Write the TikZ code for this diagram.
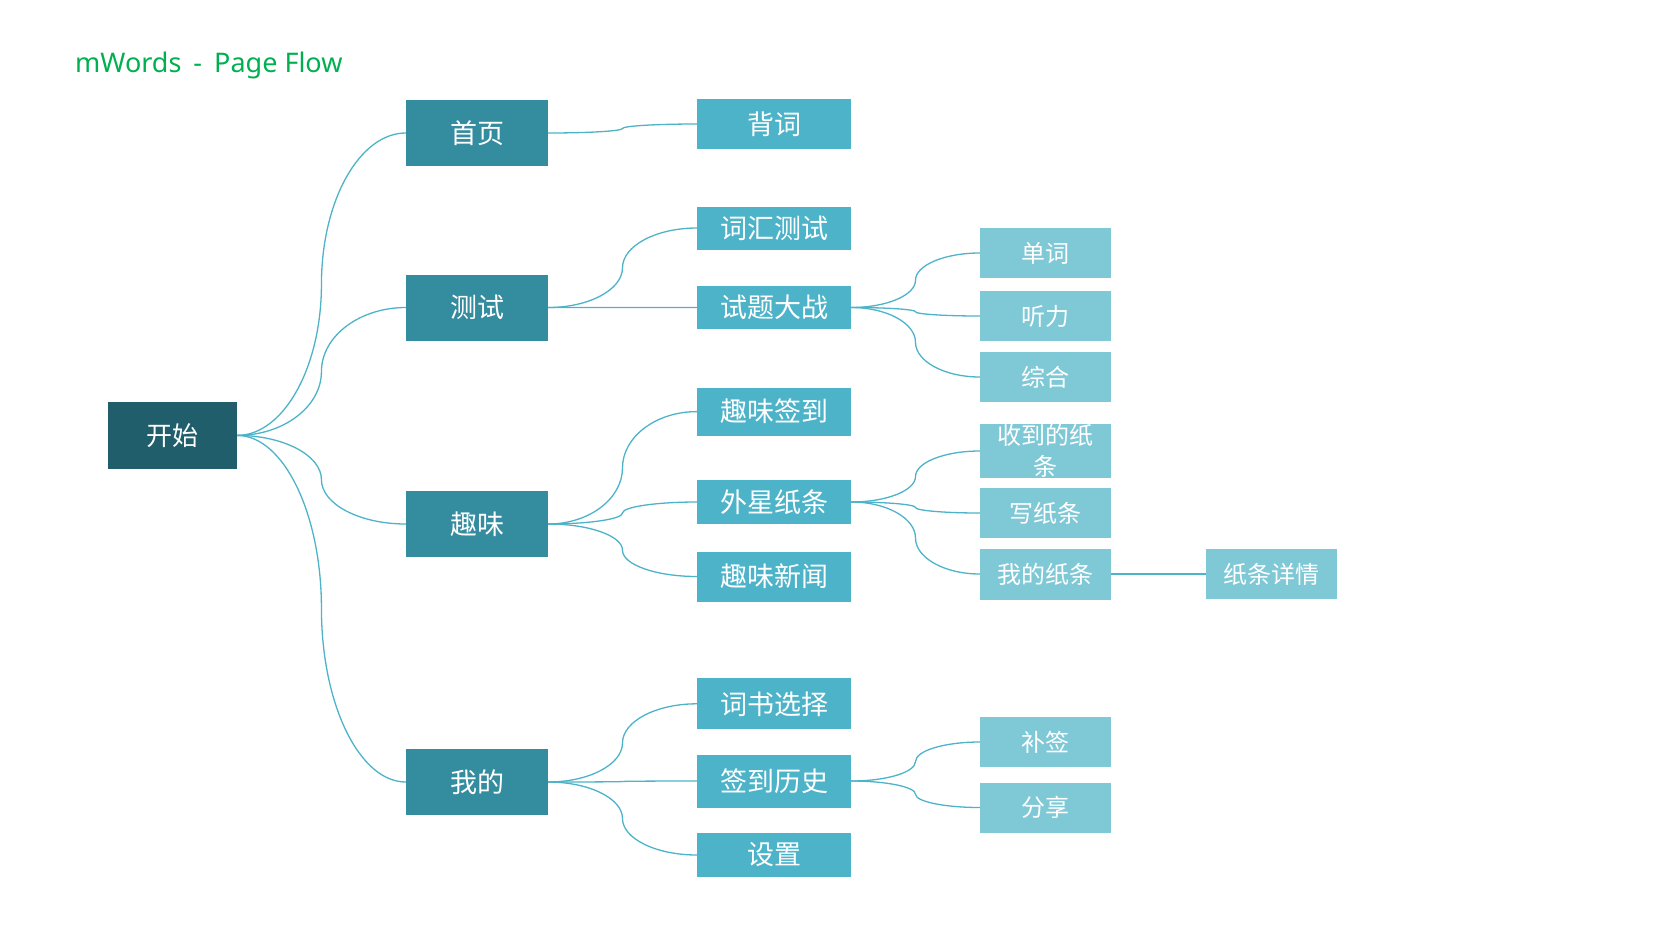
\documentclass[tikz,border=0pt]{standalone}
\usepackage{fontspec}
\setmainfont{Noto Sans}
\newfontfamily\cjk{Noto Sans CJK SC}
\usetikzlibrary{calc}

\definecolor{rootc}{HTML}{215E6B}
\definecolor{lvla}{HTML}{348C9F}
\definecolor{lvlb}{HTML}{4DB3C8}
\definecolor{lvlc}{HTML}{7FC8D6}
\definecolor{linkc}{HTML}{4DB3C8}
\definecolor{titlec}{HTML}{00B050}

\tikzset{
  box/.style={rectangle, inner sep=0pt, text=white, align=center,
    font=\cjk\fontsize{27}{32}\selectfont},
  rootbox/.style={box, fill=rootc, minimum width=129pt, minimum height=67pt,
    font=\cjk\fontsize{26}{30}\selectfont},
  boxa/.style={box, fill=lvla, minimum width=142pt, minimum height=66pt},
  boxb/.style={box, fill=lvlb, minimum width=154pt},
  boxc/.style={box, fill=lvlc, minimum width=131pt, minimum height=50pt,
    font=\cjk\fontsize{24}{28}\selectfont},
  link/.style={draw=linkc, line width=1.3pt},
}

% S-shaped connector: quarter curve to the midpoint, then quarter curve on
\newcommand\flowlink[2]{%
  \path ($(#1.east)!0.5!(#2.west)$) coordinate (mid);
  \draw[link] (#1.east)
    .. controls ($(#1.east)!0.55!(mid |- #1.east)$) and ($(mid)!0.55!(mid |- #1.east)$) .. (mid)
    .. controls ($(mid)!0.55!(mid |- #2.west)$) and ($(#2.west)!0.55!(mid |- #2.west)$) .. (#2.west);
}

\begin{document}
\begin{tikzpicture}[x=1pt, y=-1pt]
\useasboundingbox (0,0) rectangle (1657,927);

\node[anchor=base west, text=titlec, font=\fontsize{27}{32}\selectfont, inner xsep=0pt]
  (title) at (75,72) {mWords\hspace{12pt}-\hspace{12pt}Page Flow};

% root
\node[rootbox] (root) at (172.4,435.4) {开始};

% first level
\node[boxa] (home) at (477,133) {首页};
\node[boxa] (test) at (477,307.5) {测试};
\node[boxa] (fun)  at (477,524) {趣味};
\node[boxa] (mine) at (477,782) {我的};

% second level
\node[boxb, minimum height=50pt] (recite)  at (774,124)   {背词};
\node[boxb, minimum height=43pt] (vocab)   at (774,228)   {词汇测试};
\node[boxb, minimum height=43pt] (battle)  at (774,307.5) {试题大战};
\node[boxb, minimum height=48pt] (checkin) at (774,411.6) {趣味签到};
\node[boxb, minimum height=44pt] (alien)   at (774,502)   {外星纸条};
\node[boxb, minimum height=50pt] (news)    at (774,576.5) {趣味新闻};
\node[boxb, minimum height=51pt] (books)   at (774,703.8) {词书选择};
\node[boxb, minimum height=53pt] (history) at (774,781)   {签到历史};
\node[boxb, minimum height=44pt] (setting) at (774,855)   {设置};

% third level
\node[boxc] (word)     at (1045.5,253) {单词};
\node[boxc] (listen)   at (1045.5,316) {听力};
\node[boxc] (mixed)    at (1045.5,377) {综合};
\node[boxc, text width=121pt, font=\cjk\fontsize{24}{31}\selectfont]
  (received) at (1045.5,451) {收到的纸\\条};
\node[boxc] (write)    at (1045.5,513) {写纸条};
\node[boxc, minimum height=51pt] (mynotes) at (1045.5,574) {我的纸条};
\node[boxc] (makeup)   at (1045.5,742) {补签};
\node[boxc] (share)    at (1045.5,807.5) {分享};

% fourth level
\node[boxc] (detail) at (1271.4,574) {纸条详情};

\foreach \a/\b in {root/home, root/test, root/fun, root/mine,
    home/recite, test/vocab, test/battle,
    fun/checkin, fun/alien, fun/news,
    mine/books, mine/history, mine/setting,
    battle/word, battle/listen, battle/mixed,
    alien/received, alien/write, alien/mynotes,
    history/makeup, history/share,
    mynotes/detail}
  {\flowlink{\a}{\b}}
\end{tikzpicture}
\end{document}
